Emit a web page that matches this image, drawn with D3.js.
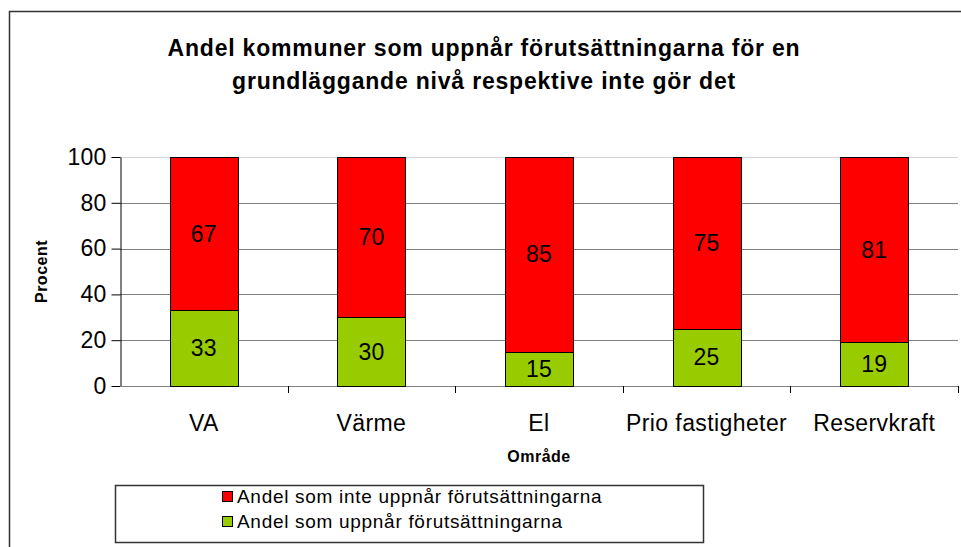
<!DOCTYPE html>
<html>
<head>
<meta charset="utf-8">
<script src="https://cdn.jsdelivr.net/npm/d3@7"></script>
<style>
  body { margin: 0; background: #fff; }
  svg { font-family: "Liberation Sans", Arial, sans-serif; display: block; }
</style>
</head>
<body>
<div id="chart"></div>
<script>
var categories = ['VA', 'Värme', 'El', 'Prio fastigheter', 'Reservkraft']
var uppnar = [33, 30, 15, 25, 19]
var inteUppnar = [67, 70, 85, 75, 81]
var yTicks = [0, 20, 40, 60, 80, 100]
var seriesNames = ['Andel som inte uppnår förutsättningarna', 'Andel som uppnår förutsättningarna']

var COLOR = { RED: '#ff0000', GREEN: '#99cc00', GRID: '#808080' }

var width = 961
var height = 547
var plot = { left: 120, right: 958, top: 157, bottom: 386 }

var svg = d3.select('#chart')
  .append('svg')
  .attr('width', width)
  .attr('height', height)

// outer chart border (runs off the right and bottom edges)
svg.append('rect')
  .attr('x', 9.5)
  .attr('y', 11.5)
  .attr('width', 1000)
  .attr('height', 600)
  .attr('fill', 'none')
  .attr('stroke', '#333')
  .attr('stroke-width', 1.5)

var x = d3.scaleBand()
  .domain(categories)
  .range([plot.left, plot.right])

var y = d3.scaleLinear()
  .domain([0, 100])
  .range([plot.bottom, plot.top])

// gridlines
svg.append('g')
  .selectAll('line')
  .data(yTicks.filter(d => d > 0))
  .enter()
  .append('line')
  .attr('x1', plot.left)
  .attr('x2', plot.right)
  .attr('y1', d => Math.round(y(d)) + 0.5)
  .attr('y2', d => Math.round(y(d)) + 0.5)
  .attr('stroke', d => d === 100 ? '#d4d4d4' : COLOR.GRID)
  .attr('stroke-width', 1)

// y axis
var yAxis = svg.append('g')
  .attr('transform', 'translate(' + (plot.left + 0.5) + ',0)')
  .call(d3.axisLeft(y).tickValues(yTicks).tickSize(9).tickSizeOuter(0).tickPadding(5))
yAxis.select('.domain').attr('stroke', '#000')
yAxis.selectAll('.tick line').attr('stroke', '#000')
yAxis.selectAll('.tick text')
  .attr('font-size', 23)
  .attr('letter-spacing', 0.2)
  .attr('font-family', '"Liberation Sans", Arial, sans-serif')
  .attr('fill', '#000')

// x axis: baseline plus ticks at band boundaries
var xAxis = svg.append('g')
xAxis.append('line')
  .attr('x1', plot.left)
  .attr('x2', plot.right)
  .attr('y1', plot.bottom + 0.5)
  .attr('y2', plot.bottom + 0.5)
  .attr('stroke', COLOR.GRID)
var boundaries = categories.map(c => x(c)).concat([plot.right])
xAxis.selectAll('.xtick')
  .data(boundaries.slice(1))
  .enter()
  .append('line')
  .attr('x1', d => Math.round(d) + 0.5)
  .attr('x2', d => Math.round(d) + 0.5)
  .attr('y1', plot.bottom)
  .attr('y2', plot.bottom + 7)
  .attr('stroke', '#000')
xAxis.selectAll('.xlabel')
  .data(categories)
  .enter()
  .append('text')
  .attr('x', d => x(d) + x.bandwidth() / 2)
  .attr('y', 431)
  .attr('text-anchor', 'middle')
  .attr('font-size', 23)
  .attr('letter-spacing', 0.4)
  .text(d => d)

// bars
var barW = 68
var stacks = categories.map((c, i) => ({ cat: c, low: uppnar[i], high: inteUppnar[i] }))

var bars = svg.append('g')
bars.selectAll('.bar-low')
  .data(stacks)
  .enter()
  .append('rect')
  .attr('x', d => Math.round(x(d.cat) + x.bandwidth() / 2 - barW / 2) + 0.5)
  .attr('y', d => Math.round(y(d.low)) + 0.5)
  .attr('width', barW)
  .attr('height', d => Math.round(y(0)) - Math.round(y(d.low)))
  .attr('fill', COLOR.GREEN)
  .attr('stroke', '#000')
bars.selectAll('.bar-high')
  .data(stacks)
  .enter()
  .append('rect')
  .attr('x', d => Math.round(x(d.cat) + x.bandwidth() / 2 - barW / 2) + 0.5)
  .attr('y', d => Math.round(y(d.low + d.high)) + 0.5)
  .attr('width', barW)
  .attr('height', d => Math.round(y(d.low)) - Math.round(y(d.low + d.high)))
  .attr('fill', COLOR.RED)
  .attr('stroke', '#000')

// value labels
bars.selectAll('.lbl-low')
  .data(stacks)
  .enter()
  .append('text')
  .attr('x', d => x(d.cat) + x.bandwidth() / 2)
  .attr('y', d => y(d.low / 2) + 8)
  .attr('text-anchor', 'middle')
  .attr('font-size', 23)
  .attr('letter-spacing', 0.2)
  .text(d => d.low)
bars.selectAll('.lbl-high')
  .data(stacks)
  .enter()
  .append('text')
  .attr('x', d => x(d.cat) + x.bandwidth() / 2)
  .attr('y', d => y(d.low + d.high / 2) + 8)
  .attr('text-anchor', 'middle')
  .attr('font-size', 23)
  .attr('letter-spacing', 0.2)
  .text(d => d.high)

// title
svg.append('text')
  .attr('x', 484)
  .attr('y', 56)
  .attr('text-anchor', 'middle')
  .attr('font-size', 23)
  .attr('letter-spacing', 0.8)
  .attr('font-weight', 'bold')
  .text('Andel kommuner som uppnår förutsättningarna för en')
svg.append('text')
  .attr('x', 484)
  .attr('y', 89)
  .attr('text-anchor', 'middle')
  .attr('font-size', 23)
  .attr('letter-spacing', 0.8)
  .attr('font-weight', 'bold')
  .text('grundläggande nivå respektive inte gör det')

// axis titles
svg.append('text')
  .attr('transform', 'translate(47,' + ((plot.top + plot.bottom) / 2) + ') rotate(-90)')
  .attr('text-anchor', 'middle')
  .attr('font-size', 16)
  .attr('letter-spacing', 0.5)
  .attr('font-weight', 'bold')
  .text('Procent')
svg.append('text')
  .attr('x', (plot.left + plot.right) / 2)
  .attr('y', 462)
  .attr('text-anchor', 'middle')
  .attr('font-size', 16)
  .attr('letter-spacing', 0.5)
  .attr('font-weight', 'bold')
  .text('Område')

// legend
var legend = svg.append('g')
legend.append('rect')
  .attr('x', 115.5)
  .attr('y', 485.5)
  .attr('width', 588)
  .attr('height', 57)
  .attr('fill', '#fff')
  .attr('stroke', '#333')
  .attr('stroke-width', 1.5)
var legColors = [COLOR.RED, COLOR.GREEN]
seriesNames.forEach((name, i) => {
  legend.append('rect')
    .attr('x', 222.5)
    .attr('y', 491.5 + i * 25)
    .attr('width', 10)
    .attr('height', 10)
    .attr('fill', legColors[i])
    .attr('stroke', '#000')
  legend.append('text')
    .attr('x', 237)
    .attr('y', 503 + i * 25)
    .attr('font-size', 19)
    .attr('letter-spacing', 0.7)
    .text(name)
})
</script>
</body>
</html>
